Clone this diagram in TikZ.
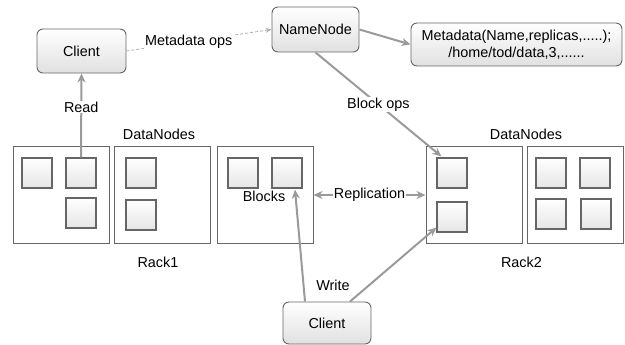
\documentclass[tikz,border=0pt]{standalone}
\usepackage{fontspec}
\setmainfont{Liberation Sans}
\usetikzlibrary{arrows.meta,calc}

\definecolor{edgegray}{HTML}{666666}
\definecolor{arrowgray}{HTML}{9A9A9A}
\definecolor{dotgray}{HTML}{B0B0B0}

\tikzset{
  box/.style={draw=edgegray,line width=0.9pt,rounded corners=6pt,
    top color=white,bottom color=black!12,minimum width=89,minimum height=44,
    inner sep=2pt,align=center},
  rack/.style={draw=edgegray,line width=1pt,fill=white,minimum width=96,minimum height=96,inner sep=0},
  blk/.style={draw=edgegray,line width=1.3pt,top color=white,bottom color=black!10,
    minimum size=30,inner sep=0},
  link/.style={draw=arrowgray,line width=2pt,->},
  lbl/.style={fill=white,inner sep=1pt},
}

\begin{document}
\begin{tikzpicture}[x=1pt,y=-1pt,>={Stealth[length=9pt,width=8pt]},
  font=\fontsize{14.4}{17}\selectfont]
\useasboundingbox (0,0) rectangle (625,345);

% top row
\node[box] (cl1) at (81.5,51) {Client};
\node[box,minimum width=87,minimum height=45] (nn) at (315.5,29.5) {NameNode};
\node[box,minimum width=211,minimum height=43] (meta) at (516.5,44.5)
  {Metadata(Name,replicas,.....);\\/home/tod/data,3,......};

% racks
\node[rack] (r1) at (61,195) {};
\node[rack] (r2) at (162,195) {};
\node[rack] (r3) at (265,195) {};
\node[rack] (r4) at (474,195) {};
\node[rack] (r5) at (575.5,195) {};

% blocks
\node[blk] (b1a) at (37,173) {};
\node[blk] (b1b) at (81,173) {};
\node[blk] (b1c) at (81,213) {};
\node[blk] (b2a) at (141,173) {};
\node[blk] (b2b) at (141,215) {};
\node[blk] (b3a) at (243,173) {};
\node[blk] (b3b) at (287,173) {};
\node[blk] (b4a) at (452,173) {};
\node[blk] (b4b) at (452,217) {};
\node[blk] (b5a) at (551,173) {};
\node[blk] (b5b) at (595,173) {};
\node[blk] (b5c) at (551,214) {};
\node[blk] (b5d) at (596,214) {};

% labels
\node (dn1) at (159,134) {DataNodes};
\node (dn2) at (526,134) {DataNodes};
\node (rk1) at (158,262) {Rack1};
\node (rk2) at (521.5,262) {Rack2};
\node (blabel) at (264,196) {Blocks};
\node (wlabel) at (333,285) {Write};

\node[box,minimum width=88,minimum height=42] (cl2) at (327,323) {Client};

% connectors
\draw[draw=dotgray,line width=0.8pt,densely dashed,
  -{Stealth[length=6pt,width=5pt]}] (cl1.east) -- (nn.west)
  node[lbl,pos=0.43] {Metadata ops};
\draw[link] (nn.east) -- (meta.west);
\draw[link] (nn.south) -- ($(b4a.north west)+(5,-1)$)
  node[lbl,pos=0.5] {Block ops};
\draw[link] (b1b.north) -- (cl1.south) node[lbl,pos=0.6] {Read};
\draw[link,<->] (r3.east) -- (r4.east -| r4.west)
  node[lbl,inner sep=0.5pt,pos=0.5] {Replication};
\draw[link] ($(cl2.north)+(-22,0)$) -- ($(b3b.south)+(8,1)$);
\draw[link] ($(cl2.north)+(23,0)$) -- ($(b4b.south west)+(0,-5)$);
\end{tikzpicture}
\end{document}
